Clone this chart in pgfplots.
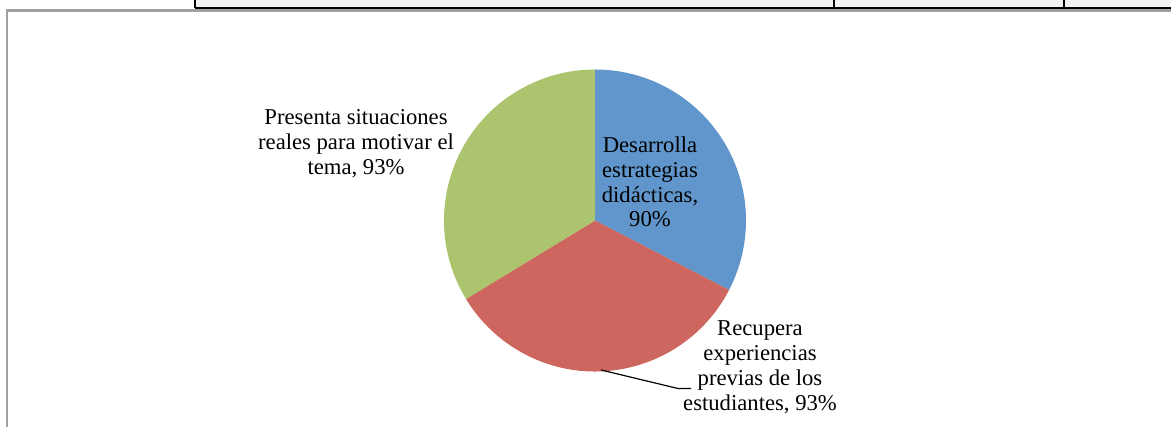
\documentclass[border=0pt]{standalone}
\usepackage{pgfplots}
\usepackage{pgfplotstable}
\pgfplotsset{compat=1.18}
\usepackage{fontspec}
\setmainfont{Liberation Serif}
\definecolor{sliceblue}{HTML}{6096CB}
\definecolor{slicered}{HTML}{CC665E}
\definecolor{slicegreen}{HTML}{ABC46D}
\definecolor{framegray}{HTML}{A0A0A0}
\definecolor{cellgray}{HTML}{F2F2F2}
\pgfplotstableread{
label value
Desarrolla 90
Recupera 93
Presenta 93
}\piedata
\begin{document}
\begin{tikzpicture}
\pgfplotstablegetelem{0}{value}\of\piedata \edef\va{\pgfplotsretval}
\pgfplotstablegetelem{1}{value}\of\piedata \edef\vb{\pgfplotsretval}
\pgfplotstablegetelem{2}{value}\of\piedata \edef\vc{\pgfplotsretval}
\pgfmathsetmacro\tot{\va+\vb+\vc}
\pgfmathsetmacro\aA{90}
\pgfmathsetmacro\aB{\aA-360*(\va/\tot)}
\pgfmathsetmacro\aC{\aB-360*(\vb/\tot)}
\pgfmathsetmacro\aD{\aC-360*(\vc/\tot)}
\def\R{113.25pt}
\begin{axis}[
  hide axis, scale only axis,
  width=878.25pt, height=320.25pt,
  xmin=0, xmax=1171, ymin=0, ymax=427,
  clip=true,
]
% table strip at top
\fill[cellgray] (axis cs:195,430) rectangle (axis cs:1175,418);
\draw[black, line width=1.5pt] (axis cs:195,418.5) -- (axis cs:1175,418.5);
\draw[black, line width=1.5pt] (axis cs:195,430) -- (axis cs:195,418.5);
\draw[black, line width=1.5pt] (axis cs:834,430) -- (axis cs:834,418.5);
\draw[black, line width=1.5pt] (axis cs:1064,430) -- (axis cs:1064,418.5);
% chart frame
\draw[framegray, line width=1.6pt] (axis cs:7,-5) -- (axis cs:7,416.5) -- (axis cs:1175,416.5);
% slices
\fill[sliceblue] (axis cs:595,206.5) -- ++(\aA:\R) arc[start angle=\aA, end angle=\aB, radius=\R] -- cycle;
\fill[slicered] (axis cs:595,206.5) -- ++(\aB:\R) arc[start angle=\aB, end angle=\aC, radius=\R] -- cycle;
\fill[slicegreen] (axis cs:595,206.5) -- ++(\aC:\R) arc[start angle=\aC, end angle=\aD, radius=\R] -- cycle;
% leader line
\draw[black, line width=0.9pt] (axis cs:601,57) -- (axis cs:678,38.5) -- (axis cs:691,38.5);
% labels
\node[align=center, font=\fontsize{17pt}{18.6pt}\selectfont] at (axis cs:356,283) {Presenta situaciones\\reales para motivar el\\tema, 93\%};
\node[align=center, font=\fontsize{17pt}{18.6pt}\selectfont] at (axis cs:650,245) {Desarrolla\\estrategias\\didácticas,\\90\%};
\node[align=center, font=\fontsize{17pt}{18.6pt}\selectfont] at (axis cs:760,59.5) {Recupera\\experiencias\\previas de los\\estudiantes, 93\%};
\end{axis}
\pgfresetboundingbox
\useasboundingbox (current axis.south west) rectangle (current axis.north east);
\end{tikzpicture}
\end{document}
